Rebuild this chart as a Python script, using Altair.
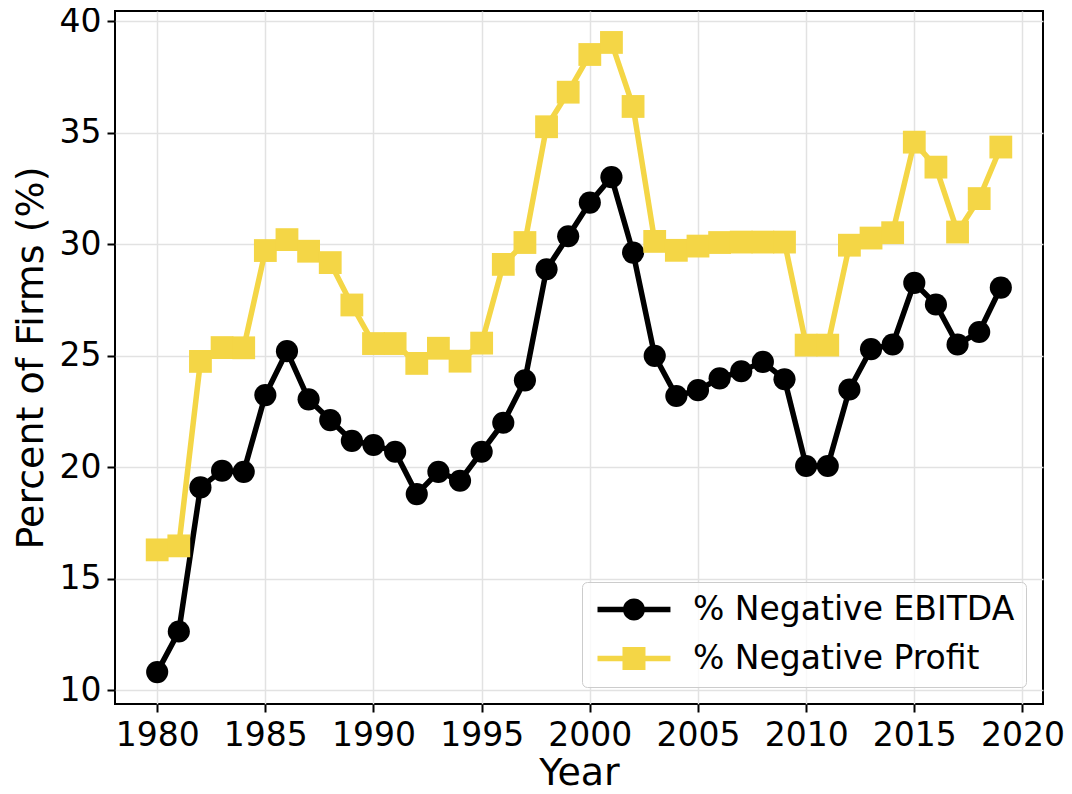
import altair as alt
import pandas as pd

years = list(range(1980, 2020))
ebitda = [10.82, 12.64, 19.10, 19.85, 19.80, 23.24, 25.21, 23.05, 22.12, 21.19,
          21.00, 20.70, 18.80, 19.80, 19.40, 20.70, 22.00, 23.90, 28.88, 30.36,
          31.87, 33.01, 29.63, 25.00, 23.20, 23.46, 23.99, 24.31, 24.73, 23.95,
          20.06, 20.06, 23.49, 25.30, 25.51, 28.27, 27.30, 25.51, 26.07, 28.06]
profit = [16.30, 16.48, 24.75, 25.37, 25.36, 29.72, 30.21, 29.69, 29.18, 27.28,
          25.55, 25.55, 24.66, 25.34, 24.76, 25.57, 29.10, 30.08, 35.27, 36.82,
          38.51, 39.05, 36.18, 30.13, 29.73, 29.92, 30.08, 30.10, 30.10, 30.10,
          25.48, 25.48, 29.96, 30.28, 30.52, 34.58, 33.46, 30.55, 32.05, 34.36]
series_names = ["% Negative EBITDA", "% Negative Profit"]
series_colors = ["#000000", "#F4D646"]
marker_shapes = ["circle", "square"]
marker_sizes = [490, 520]
x_ticks = [1980, 1985, 1990, 1995, 2000, 2005, 2010, 2015, 2020]
y_ticks = [10, 15, 20, 25, 30, 35, 40]

# legend symbols: line with marker (custom SVG paths, unit = 12px)
legend_paths = [
    "M-1,-0.22H1.19V0.22H-1Z M2.89,-0.22H5.08V0.22H2.89Z "
    "M1.123,0A0.917,0.917 0 1 1 2.957,0A0.917,0.917 0 1 1 1.123,0Z",
    "M-1,-0.22H5.08V0.22H-1Z M1.082,-0.958H2.998V0.958H1.082Z",
]

rows = []
for yr, e, p in zip(years, ebitda, profit):
    rows.append({"Year": yr, "value": e, "series": series_names[0]})
    rows.append({"Year": yr, "value": p, "series": series_names[1]})
df = pd.DataFrame(rows)

FONT = "DejaVu Sans"

x_enc = alt.X("Year:Q",
              scale=alt.Scale(domain=[1978.05, 2020.95], nice=False, zero=False),
              axis=alt.Axis(values=x_ticks, format="d", title="Year"))
y_enc = alt.Y("value:Q",
              scale=alt.Scale(domain=[9.39, 40.46], nice=False, zero=False),
              axis=alt.Axis(values=y_ticks, title="Percent of Firms (%)"))
color_scale = alt.Scale(domain=series_names, range=series_colors)

legend_kw = dict(
    title=None, orient="bottom-right", offset=17,
    labelFont=FONT, labelFontSize=33, labelColor="black",
    symbolSize=576, symbolStrokeWidth=0, symbolOpacity=1,
    labelOffset=67, rowPadding=15, padding=11,
    strokeColor="#cccccc", fillColor="rgba(255,255,255,0.8)",
    cornerRadius=5, labelLimit=0,
)
# legend-only layer: points pushed outside the view and clipped
legend_layer = alt.Chart(df).transform_calculate(value="-1000").mark_point(
    filled=True, size=576, opacity=1, clip=True).encode(
    x=x_enc, y=y_enc,
    color=alt.Color("series:N", scale=color_scale, legend=alt.Legend(**legend_kw)),
    shape=alt.Shape("series:N",
                    scale=alt.Scale(domain=series_names, range=legend_paths),
                    legend=alt.Legend(**legend_kw)),
)

layers = [legend_layer]
for name, shp, sz in zip(series_names, marker_shapes, marker_sizes):
    base = alt.Chart(df).transform_filter(alt.datum.series == name)
    line = base.mark_line(strokeWidth=5.5).encode(
        x=x_enc, y=y_enc,
        color=alt.Color("series:N", scale=color_scale, legend=None))
    pts = base.mark_point(filled=True, shape=shp, size=sz, opacity=1).encode(
        x=x_enc, y=y_enc,
        color=alt.Color("series:N", scale=color_scale, legend=None))
    layers += [line, pts]

chart = alt.layer(*layers).properties(
    width=928, height=693,
    autosize=alt.AutoSizeParams(type="none"),
    padding={"left": 107, "top": 3, "right": 21, "bottom": 88},
).configure_view(
    stroke="black", strokeWidth=2
).configure_axis(
    grid=True, gridColor="#e2e2e2", gridWidth=1.5,
    domain=False, tickColor="black", tickSize=8, tickWidth=2,
    labelFont=FONT, labelFontSize=33, labelColor="black",
    titleFont=FONT, titleFontSize=38, titleFontWeight="normal", titleColor="black",
).configure_axisX(
    labelPadding=7, titleBaseline="alphabetic", titleY=80
).configure_axisY(
    labelPadding=6, titleBaseline="alphabetic", titleX=-73
)

chart.save("out.html", embed_options={"renderer": "svg", "actions": False})
